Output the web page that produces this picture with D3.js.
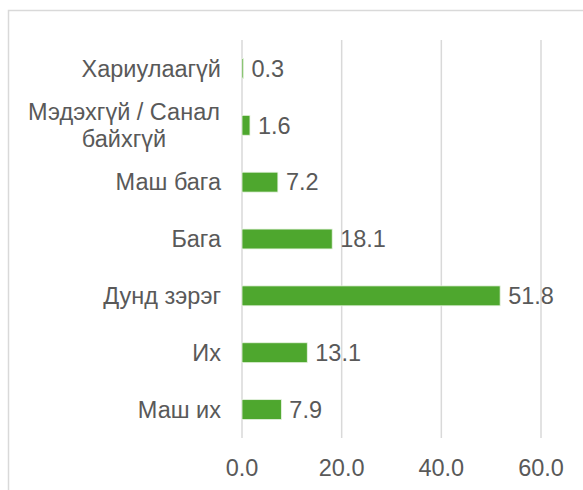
<!DOCTYPE html>
<html>
<head>
<meta charset="utf-8">
<script src="https://cdn.jsdelivr.net/npm/d3@7"></script>
<style>
  body { margin: 0; background: #fff; }
  text { font-family: "Liberation Sans", Arial, sans-serif; fill: #595959; }
</style>
</head>
<body>
<svg id="chart" width="583" height="490"></svg>
<script>
var categories = ["Хариулаагүй", "Мэдэхгүй / Санал байхгүй", "Маш бага", "Бага", "Дунд зэрэг", "Их", "Маш их"];
var labelLines = [["Хариулаагүй"], ["Мэдэхгүй / Санал", "байхгүй"], ["Маш бага"], ["Бага"], ["Дунд зэрэг"], ["Их"], ["Маш их"]];
var values = [0.3, 1.6, 7.2, 18.1, 51.8, 13.1, 7.9];
var xTicks = [0, 20, 40, 60];

var svg = d3.select("svg#chart"),
    margin = {top: 40, left: 242, right: 42, bottom: 52},
    width = +svg.attr("width") - margin.left - margin.right,
    height = +svg.attr("height") - margin.top - margin.bottom,
    fontSize = 23.5;

// chart area border (runs off right/bottom edge)
svg.append("rect")
    .attr("x", 8.5).attr("y", 10.5)
    .attr("width", 600).attr("height", 500)
    .attr("fill", "none")
    .attr("stroke", "#d9d9d9")
    .attr("stroke-width", 1.5);

var g = svg.append("g").attr("transform", "translate(" + margin.left + "," + margin.top + ")");

var x = d3.scaleLinear().domain([0, 60]).range([0, 299]);

var y = d3.scaleBand()
    .domain(categories)
    .range([0, height])
    .paddingInner(0.65)
    .paddingOuter(0.325);

// gridlines
g.append("g").selectAll("line")
  .data(xTicks)
  .enter().append("line")
    .attr("x1", function(d) { return x(d); })
    .attr("x2", function(d) { return x(d); })
    .attr("y1", 0)
    .attr("y2", height)
    .attr("stroke", "#d9d9d9")
    .attr("stroke-width", 1.5);

// x tick labels
g.append("g").selectAll("text")
  .data(xTicks)
  .enter().append("text")
    .attr("x", function(d) { return x(d); })
    .attr("y", height + 30)
    .attr("dy", "0.35em")
    .attr("text-anchor", "middle")
    .attr("font-size", fontSize)
    .text(function(d) { return d3.format(".1f")(d); });

// bars
g.append("g").selectAll("rect")
  .data(values)
  .enter().append("rect")
    .attr("x", x(0))
    .attr("y", function(d, i) { return y(categories[i]); })
    .attr("width", function(d) { return x(d) - x(0); })
    .attr("height", y.bandwidth())
    .attr("fill", "#4ea72e")
    .attr("stroke", "#e8f3e2")
    .attr("stroke-width", 0.8);

// value labels
g.append("g").selectAll("text")
  .data(values)
  .enter().append("text")
    .attr("x", function(d) { return x(d) + 8; })
    .attr("y", function(d, i) { return y(categories[i]) + y.bandwidth() / 2; })
    .attr("dy", "0.35em")
    .attr("font-size", fontSize)
    .text(function(d) { return d3.format(".1f")(d); });

// category labels
var cat = g.append("g").selectAll("text")
  .data(categories)
  .enter().append("text")
    .attr("font-size", fontSize)
    .attr("text-anchor", function(d, i) { return labelLines[i].length > 1 ? "middle" : "end"; })
    .attr("x", function(d, i) { return labelLines[i].length > 1 ? -118 : -21; })
    .attr("y", function(d, i) { return y(d) + y.bandwidth() / 2; });

cat.each(function(d, i) {
  var lines = labelLines[i];
  var t = d3.select(this);
  lines.forEach(function(line, j) {
    t.append("tspan")
      .attr("x", t.attr("x"))
      .attr("dy", j === 0 ? (0.35 - (lines.length - 1) * 0.58) + "em" : "1.16em")
      .text(line);
  });
});
</script>
</body>
</html>
